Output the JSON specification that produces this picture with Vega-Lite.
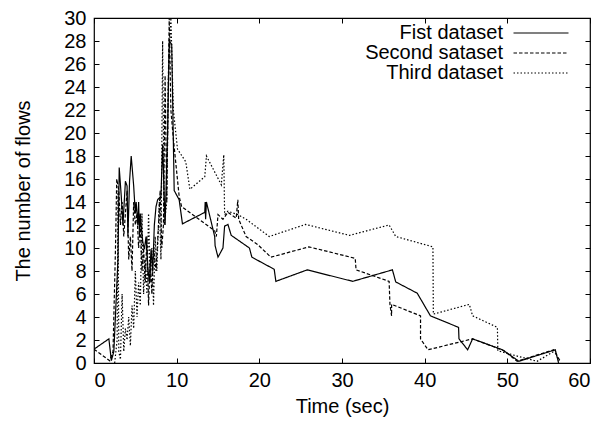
{
  "$schema": "https://vega.github.io/schema/vega-lite/v6.json",
  "width": 496,
  "height": 345,
  "autosize": {"type": "none"},
  "padding": {"left": 94, "top": 18, "right": 18, "bottom": 67},
  "background": "white",
  "config": {
    "font": "Liberation Sans",
    "view": {"stroke": "black", "strokeWidth": 1.2},
    "axis": {"grid": false, "domain": false, "tickColor": "black", "labelColor": "black", "titleColor": "black", "labelFontSize": 20, "titleFontSize": 20, "titleFontWeight": "normal", "tickSize": -5, "tickWidth": 1}
  },
  "data": {"values": [
    {"s":"Fist dataset","i":0,"x":0,"y":1.2},{"s":"Fist dataset","i":1,"x":1.8,"y":2.1},{"s":"Fist dataset","i":2,"x":2.1,"y":0.2},{"s":"Fist dataset","i":3,"x":2.4,"y":1},{"s":"Fist dataset","i":4,"x":2.9,"y":9},{"s":"Fist dataset","i":5,"x":3.05,"y":17},{"s":"Fist dataset","i":6,"x":3.3,"y":14.5},{"s":"Fist dataset","i":7,"x":3.5,"y":12},{"s":"Fist dataset","i":8,"x":3.8,"y":15.8},{"s":"Fist dataset","i":9,"x":4.0,"y":15.4},{"s":"Fist dataset","i":10,"x":4.1,"y":11},{"s":"Fist dataset","i":11,"x":4.3,"y":15.8},{"s":"Fist dataset","i":12,"x":4.5,"y":18},{"s":"Fist dataset","i":13,"x":4.8,"y":15.4},{"s":"Fist dataset","i":14,"x":5.0,"y":13},{"s":"Fist dataset","i":15,"x":5.1,"y":14},{"s":"Fist dataset","i":16,"x":5.3,"y":12},{"s":"Fist dataset","i":17,"x":5.4,"y":14},{"s":"Fist dataset","i":18,"x":5.5,"y":11},{"s":"Fist dataset","i":19,"x":5.6,"y":13},{"s":"Fist dataset","i":20,"x":5.7,"y":12},{"s":"Fist dataset","i":21,"x":5.9,"y":10.5},{"s":"Fist dataset","i":22,"x":6.1,"y":9.9},{"s":"Fist dataset","i":23,"x":6.3,"y":11},{"s":"Fist dataset","i":24,"x":6.5,"y":8.4},{"s":"Fist dataset","i":25,"x":6.7,"y":7},{"s":"Fist dataset","i":26,"x":6.9,"y":9.9},{"s":"Fist dataset","i":27,"x":7.1,"y":8},{"s":"Fist dataset","i":28,"x":7.3,"y":12},{"s":"Fist dataset","i":29,"x":7.5,"y":13.6},{"s":"Fist dataset","i":30,"x":7.7,"y":14.2},{"s":"Fist dataset","i":31,"x":8.1,"y":14.5},{"s":"Fist dataset","i":32,"x":8.3,"y":19},{"s":"Fist dataset","i":33,"x":8.6,"y":12},{"s":"Fist dataset","i":34,"x":8.9,"y":20},{"s":"Fist dataset","i":35,"x":9.1,"y":28},{"s":"Fist dataset","i":36,"x":9.4,"y":27.7},{"s":"Fist dataset","i":37,"x":9.7,"y":15},{"s":"Fist dataset","i":38,"x":10.3,"y":14.2},{"s":"Fist dataset","i":39,"x":10.7,"y":12.1},{"s":"Fist dataset","i":40,"x":13.4,"y":13.1},{"s":"Fist dataset","i":41,"x":13.45,"y":14},{"s":"Fist dataset","i":42,"x":13.5,"y":12.5},{"s":"Fist dataset","i":43,"x":13.6,"y":14},{"s":"Fist dataset","i":44,"x":14.6,"y":11},{"s":"Fist dataset","i":45,"x":14.65,"y":10.2},{"s":"Fist dataset","i":46,"x":15.0,"y":9.2},{"s":"Fist dataset","i":47,"x":15.6,"y":10},{"s":"Fist dataset","i":48,"x":15.8,"y":11.9},{"s":"Fist dataset","i":49,"x":16.2,"y":12.05},{"s":"Fist dataset","i":50,"x":16.6,"y":11.1},{"s":"Fist dataset","i":51,"x":18.8,"y":10},{"s":"Fist dataset","i":52,"x":19.1,"y":9.2},{"s":"Fist dataset","i":53,"x":21.8,"y":8.15},{"s":"Fist dataset","i":54,"x":22.0,"y":7.1},{"s":"Fist dataset","i":55,"x":25.8,"y":8.1},{"s":"Fist dataset","i":56,"x":31.3,"y":7.1},{"s":"Fist dataset","i":57,"x":36.1,"y":8.1},{"s":"Fist dataset","i":58,"x":36.5,"y":7.05},{"s":"Fist dataset","i":59,"x":39.1,"y":6.07},{"s":"Fist dataset","i":60,"x":40.7,"y":4.1},{"s":"Fist dataset","i":61,"x":44.1,"y":3.1},{"s":"Fist dataset","i":62,"x":44.15,"y":2.1},{"s":"Fist dataset","i":63,"x":45.2,"y":1.15},{"s":"Fist dataset","i":64,"x":45.8,"y":2.1},{"s":"Fist dataset","i":65,"x":49.4,"y":1.15},{"s":"Fist dataset","i":66,"x":51.4,"y":0.15},{"s":"Fist dataset","i":67,"x":55.8,"y":1.15},{"s":"Fist dataset","i":68,"x":56.2,"y":0},
    {"s":"Second sataset","i":0,"x":0,"y":1.2},{"s":"Second sataset","i":1,"x":1.9,"y":0.2},{"s":"Second sataset","i":2,"x":2.3,"y":1},{"s":"Second sataset","i":3,"x":2.6,"y":10},{"s":"Second sataset","i":4,"x":2.75,"y":16},{"s":"Second sataset","i":5,"x":3.0,"y":15},{"s":"Second sataset","i":6,"x":3.2,"y":12},{"s":"Second sataset","i":7,"x":3.4,"y":14},{"s":"Second sataset","i":8,"x":3.6,"y":11},{"s":"Second sataset","i":9,"x":3.8,"y":13},{"s":"Second sataset","i":10,"x":4.0,"y":15},{"s":"Second sataset","i":11,"x":4.2,"y":9},{"s":"Second sataset","i":12,"x":4.4,"y":11},{"s":"Second sataset","i":13,"x":4.6,"y":8},{"s":"Second sataset","i":14,"x":4.8,"y":14},{"s":"Second sataset","i":15,"x":5.0,"y":12},{"s":"Second sataset","i":16,"x":5.2,"y":13},{"s":"Second sataset","i":17,"x":5.4,"y":10},{"s":"Second sataset","i":18,"x":5.6,"y":12},{"s":"Second sataset","i":19,"x":5.8,"y":8},{"s":"Second sataset","i":20,"x":6.0,"y":10},{"s":"Second sataset","i":21,"x":6.2,"y":7},{"s":"Second sataset","i":22,"x":6.4,"y":11},{"s":"Second sataset","i":23,"x":6.6,"y":5},{"s":"Second sataset","i":24,"x":6.8,"y":9},{"s":"Second sataset","i":25,"x":7.0,"y":6},{"s":"Second sataset","i":26,"x":7.2,"y":10},{"s":"Second sataset","i":27,"x":7.5,"y":8},{"s":"Second sataset","i":28,"x":7.8,"y":12},{"s":"Second sataset","i":29,"x":8.0,"y":15},{"s":"Second sataset","i":30,"x":8.2,"y":10},{"s":"Second sataset","i":31,"x":8.4,"y":12},{"s":"Second sataset","i":32,"x":8.6,"y":25},{"s":"Second sataset","i":33,"x":8.8,"y":14},{"s":"Second sataset","i":34,"x":9.1,"y":30},{"s":"Second sataset","i":35,"x":9.3,"y":22},{"s":"Second sataset","i":36,"x":9.6,"y":19.5},{"s":"Second sataset","i":37,"x":10.3,"y":14.5},{"s":"Second sataset","i":38,"x":10.6,"y":13.6},{"s":"Second sataset","i":39,"x":14.6,"y":11.5},{"s":"Second sataset","i":40,"x":14.8,"y":11},{"s":"Second sataset","i":41,"x":15.0,"y":12.9},{"s":"Second sataset","i":42,"x":15.6,"y":12.5},{"s":"Second sataset","i":43,"x":16.2,"y":13.1},{"s":"Second sataset","i":44,"x":17.2,"y":12.6},{"s":"Second sataset","i":45,"x":17.4,"y":14.2},{"s":"Second sataset","i":46,"x":17.5,"y":12.5},{"s":"Second sataset","i":47,"x":18.4,"y":11},{"s":"Second sataset","i":48,"x":19.8,"y":10.3},{"s":"Second sataset","i":49,"x":21.4,"y":9.2},{"s":"Second sataset","i":50,"x":26,"y":10.1},{"s":"Second sataset","i":51,"x":31.6,"y":9.1},{"s":"Second sataset","i":52,"x":31.7,"y":8.1},{"s":"Second sataset","i":53,"x":35.7,"y":7.1},{"s":"Second sataset","i":54,"x":35.8,"y":5.1},{"s":"Second sataset","i":55,"x":36.0,"y":4.1},{"s":"Second sataset","i":56,"x":36.0,"y":5.1},{"s":"Second sataset","i":57,"x":39.5,"y":4.1},{"s":"Second sataset","i":58,"x":39.5,"y":2.1},{"s":"Second sataset","i":59,"x":40.4,"y":1.15},{"s":"Second sataset","i":60,"x":45.8,"y":2.1},{"s":"Second sataset","i":61,"x":49.6,"y":1.07},{"s":"Second sataset","i":62,"x":51.2,"y":0.15},{"s":"Second sataset","i":63,"x":55.6,"y":1.15},{"s":"Second sataset","i":64,"x":56.4,"y":0.15},
    {"s":"Third dataset","i":0,"x":2.5,"y":0},{"s":"Third dataset","i":1,"x":2.8,"y":2},{"s":"Third dataset","i":2,"x":2.9,"y":15},{"s":"Third dataset","i":3,"x":3.0,"y":1},{"s":"Third dataset","i":4,"x":3.2,"y":0.3},{"s":"Third dataset","i":5,"x":3.4,"y":6},{"s":"Third dataset","i":6,"x":3.6,"y":1},{"s":"Third dataset","i":7,"x":3.8,"y":3},{"s":"Third dataset","i":8,"x":4.0,"y":2},{"s":"Third dataset","i":9,"x":4.2,"y":4},{"s":"Third dataset","i":10,"x":4.4,"y":1.5},{"s":"Third dataset","i":11,"x":4.6,"y":5},{"s":"Third dataset","i":12,"x":4.8,"y":3},{"s":"Third dataset","i":13,"x":5.0,"y":8},{"s":"Third dataset","i":14,"x":5.2,"y":4},{"s":"Third dataset","i":15,"x":5.4,"y":7},{"s":"Third dataset","i":16,"x":5.6,"y":5},{"s":"Third dataset","i":17,"x":5.8,"y":13},{"s":"Third dataset","i":18,"x":6.0,"y":6},{"s":"Third dataset","i":19,"x":6.2,"y":9},{"s":"Third dataset","i":20,"x":6.4,"y":6},{"s":"Third dataset","i":21,"x":6.6,"y":13},{"s":"Third dataset","i":22,"x":6.8,"y":7},{"s":"Third dataset","i":23,"x":7.0,"y":10},{"s":"Third dataset","i":24,"x":7.2,"y":5},{"s":"Third dataset","i":25,"x":7.4,"y":11},{"s":"Third dataset","i":26,"x":7.6,"y":8},{"s":"Third dataset","i":27,"x":7.9,"y":14},{"s":"Third dataset","i":28,"x":8.1,"y":9},{"s":"Third dataset","i":29,"x":8.3,"y":28},{"s":"Third dataset","i":30,"x":8.5,"y":12},{"s":"Third dataset","i":31,"x":8.8,"y":14},{"s":"Third dataset","i":32,"x":9.0,"y":25},{"s":"Third dataset","i":33,"x":9.3,"y":30},{"s":"Third dataset","i":34,"x":9.6,"y":22},{"s":"Third dataset","i":35,"x":10.1,"y":18.6},{"s":"Third dataset","i":36,"x":11.1,"y":17.5},{"s":"Third dataset","i":37,"x":11.6,"y":15.1},{"s":"Third dataset","i":38,"x":13.4,"y":16.2},{"s":"Third dataset","i":39,"x":13.6,"y":18},{"s":"Third dataset","i":40,"x":15.4,"y":15.5},{"s":"Third dataset","i":41,"x":15.7,"y":18.1},{"s":"Third dataset","i":42,"x":15.8,"y":12.9},{"s":"Third dataset","i":43,"x":16.2,"y":13.2},{"s":"Third dataset","i":44,"x":17.4,"y":12.9},{"s":"Third dataset","i":45,"x":18.4,"y":12.5},{"s":"Third dataset","i":46,"x":21.2,"y":11},{"s":"Third dataset","i":47,"x":25.6,"y":12.05},{"s":"Third dataset","i":48,"x":30.9,"y":11.1},{"s":"Third dataset","i":49,"x":35.7,"y":12},{"s":"Third dataset","i":50,"x":36.5,"y":11},{"s":"Third dataset","i":51,"x":41,"y":10.1},{"s":"Third dataset","i":52,"x":41.05,"y":4.25},{"s":"Third dataset","i":53,"x":45.4,"y":5.1},{"s":"Third dataset","i":54,"x":45.8,"y":4.1},{"s":"Third dataset","i":55,"x":48.8,"y":3.1},{"s":"Third dataset","i":56,"x":48.85,"y":1.07},{"s":"Third dataset","i":57,"x":51.2,"y":0.6},{"s":"Third dataset","i":58,"x":53.6,"y":0.15},{"s":"Third dataset","i":59,"x":55.8,"y":1.07},{"s":"Third dataset","i":60,"x":56.2,"y":0.15}
  ]},
  "layer": [
    {
      "mark": {"type": "line", "stroke": "black", "strokeWidth": 1.2, "clip": true},
      "encoding": {
        "x": {"field": "x", "type": "quantitative", "scale": {"domain": [0, 60], "nice": false}, "axis": {"values": [0,10,20,30,40,50,60], "title": "Time (sec)", "labelPadding": 12, "titlePadding": 6}},
        "y": {"field": "y", "type": "quantitative", "scale": {"domain": [0, 30], "nice": false}, "axis": {"values": [0,2,4,6,8,10,12,14,16,18,20,22,24,26,28,30], "title": "The number of flows", "labelPadding": 13, "titlePadding": 30}},
        "order": {"field": "i", "type": "quantitative"},
        "detail": {"field": "s"},
        "strokeDash": {"field": "s", "type": "nominal", "scale": {"domain": ["Fist dataset", "Second sataset", "Third dataset"], "range": [[1, 0], [3.5, 2], [1.5, 2]]}, "legend": {"title": null, "orient": "none", "legendX": 437, "legendY": 5, "symbolType": "M-4,0H4", "symbolSize": 189, "symbolStrokeColor": "black", "symbolStrokeWidth": 1.2, "labelAlign": "right", "labelOffset": -48, "labelFontSize": 20, "labelColor": "black", "padding": 0, "rowPadding": 0, "labelLimit": 300}}
      }
    },
    {
      "mark": {"type": "rule", "opacity": 0},
      "encoding": {
        "x": {"datum": 0, "type": "quantitative", "scale": {"domain": [0, 60], "nice": false}, "axis": {"orient": "top", "values": [0,10,20,30,40,50,60], "labels": false, "title": null}},
        "y": {"datum": 0, "type": "quantitative", "scale": {"domain": [0, 30], "nice": false}, "axis": {"orient": "right", "values": [0,2,4,6,8,10,12,14,16,18,20,22,24,26,28,30], "labels": false, "title": null}}
      }
    }
  ],
  "resolve": {"axis": {"x": "independent", "y": "independent"}}
}
